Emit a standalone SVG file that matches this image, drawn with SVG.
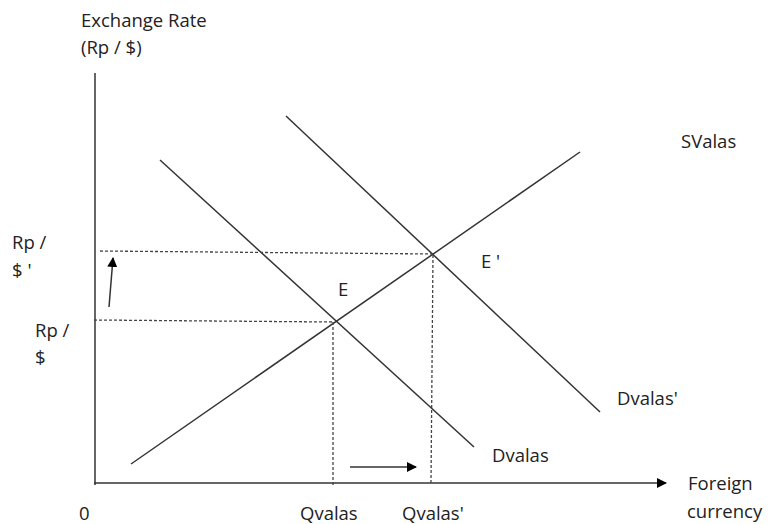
<svg xmlns="http://www.w3.org/2000/svg" width="769" height="524" viewBox="0 0 769 524">
<style>
text{font-family:"Open Sans","Liberation Sans",sans-serif;font-size:18.5px;fill:#222}
.ln{stroke:#333;stroke-width:1.5;fill:none}
.dash{stroke:#444;stroke-width:1.3;stroke-dasharray:3,2;fill:none}
</style>
<defs>
<marker id="ah" markerWidth="10" markerHeight="10" refX="9" refY="5" orient="auto" markerUnits="userSpaceOnUse">
<path d="M0,0 L10,5 L0,10 z" fill="#000"/>
</marker>
</defs>
<rect width="769" height="524" fill="#fff"/>
<g id="axes">
<line x1="95" y1="73" x2="95" y2="485" stroke="#666" stroke-width="2"/>
<line x1="94" y1="483" x2="666" y2="483" class="ln" stroke="#000" marker-end="url(#ah)"/>
</g>
<g id="connectors">
<line id="supply" class="ln" x1="131" y1="464" x2="580" y2="152"/>
<line id="demand" class="ln" x1="160" y1="160" x2="474" y2="447"/>
<line id="demand2" class="ln" x1="286" y1="116" x2="600" y2="412"/>
<line class="dash" x1="100" y1="251" x2="433" y2="254"/>
<line class="dash" x1="94" y1="320" x2="333" y2="322"/>
<line class="dash" x1="333" y1="322" x2="333" y2="487"/>
<line class="dash" x1="433" y1="255" x2="431" y2="483"/>
<line class="ln" x1="109" y1="307" x2="113" y2="258" stroke="#000" marker-end="url(#ah)"/>
<line class="ln" x1="350" y1="467" x2="416" y2="467" stroke="#000" marker-end="url(#ah)"/>
</g>
<g id="labels">
<text x="81" y="27">Exchange Rate</text>
<text x="81" y="54">(Rp / $)</text>
<text x="12" y="249">Rp /</text>
<text x="12" y="277">$ '</text>
<text x="35" y="337">Rp /</text>
<text x="35" y="364">$</text>
<text x="338" y="296">E</text>
<text x="481" y="268">E '</text>
<text x="681" y="148">SValas</text>
<text x="617" y="405">Dvalas'</text>
<text x="492" y="462">Dvalas</text>
<text x="688" y="490">Foreign</text>
<text x="687" y="518">currency</text>
<text x="79" y="520">0</text>
<text x="300" y="520">Qvalas</text>
<text x="402" y="520">Qvalas'</text>
</g>
</svg>
